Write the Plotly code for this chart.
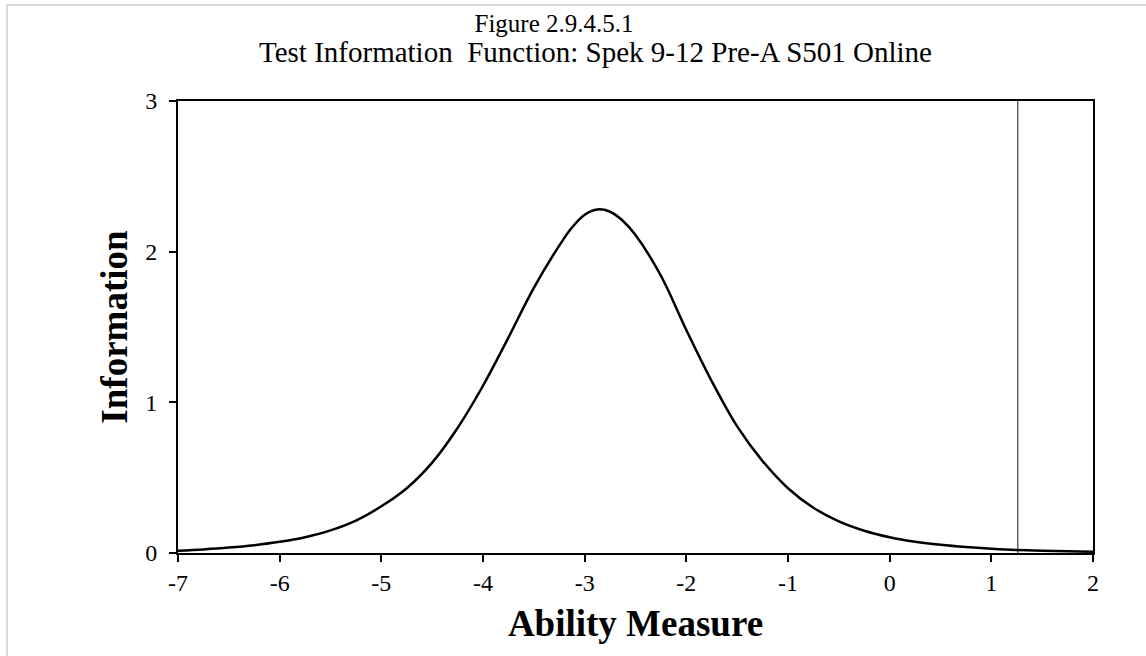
import plotly.graph_objects as go

# Data
ability = [-7.0, -6.75, -6.5, -6.25, -6.0, -5.75, -5.5, -5.25, -5.0, -4.75, -4.5, -4.25,
           -4.0, -3.75, -3.5, -3.25, -3.125, -3.0, -2.875, -2.75, -2.625, -2.5, -2.25, -2.0,
           -1.75, -1.5, -1.25, -1.0, -0.75, -0.5, -0.25, 0.0, 0.25, 0.5, 0.75, 1.0, 1.25,
           1.5, 1.75, 2.0]
information = [0.015, 0.024, 0.036, 0.052, 0.074, 0.105, 0.15, 0.215, 0.31, 0.43, 0.60, 0.83,
               1.11, 1.43, 1.76, 2.04, 2.16, 2.245, 2.28, 2.265, 2.205, 2.11, 1.84, 1.48,
               1.14, 0.84, 0.61, 0.43, 0.30, 0.21, 0.148, 0.105, 0.075, 0.054, 0.039, 0.028, 0.020,
               0.015, 0.011, 0.008]
cut_x = [1.26, 1.26]
cut_y = [0, 3]

x_ticks = [-7, -6, -5, -4, -3, -2, -1, 0, 1, 2]
x_labels = ["-7", "-6", "-5", "-4", "-3", "-2", "-1", "0", "1", "2"]
y_ticks = [0, 1, 2, 3]
y_labels = ["0", "1", "2", "3"]

title_line1 = "Figure 2.9.4.5.1"
title_line2 = "Test Information  Function: Spek 9-12 Pre-A S501 Online"
x_title = "Ability Measure"
y_title = "Information"

FONT = "Liberation Serif, Times New Roman, serif"

fig = go.Figure()
fig.add_trace(go.Scatter(x=cut_x, y=cut_y, mode="lines",
                         line=dict(color="#404040", width=1.2), showlegend=False, hoverinfo="skip"))
fig.add_trace(go.Scatter(x=ability, y=information, mode="lines",
                         line=dict(color="black", width=2.5, shape="spline", smoothing=1.0),
                         showlegend=False))

L, R, T, B = 178, 53, 101, 103
W, H = 1146, 656
pw, ph = W - L - R, H - T - B

fig.update_layout(
    width=W, height=H,
    margin=dict(l=L, r=R, t=T, b=B, pad=0),
    paper_bgcolor="white", plot_bgcolor="white",
    font=dict(family=FONT, color="black", size=24),
    title=dict(text=title_line1, x=554 / W, xanchor="center",
               yref="container", y=1 - 23 / H, yanchor="middle",
               font=dict(family=FONT, size=25, color="black")),
    xaxis=dict(range=[-7, 2], tickvals=x_ticks, ticktext=x_labels, ticks="outside", ticklen=7,
               tickwidth=2, tickcolor="black", showline=True, linewidth=2, linecolor="black",
               mirror=True, showgrid=False, zeroline=False,
               tickfont=dict(family=FONT, size=24, color="black"),
               title=dict(text="<b>" + x_title + "</b>", font=dict(family=FONT, size=37, color="black"),
                          standoff=15)),
    yaxis=dict(range=[0, 3], tickvals=y_ticks, ticktext=y_labels, ticks="outside", ticklen=7,
               tickwidth=2, tickcolor="black", showline=True, linewidth=2, linecolor="black",
               mirror=True, showgrid=False, zeroline=False, ticklabelstandoff=7,
               tickfont=dict(family=FONT, size=24, color="black"),
               title=dict(text="<b>" + y_title + "</b>", font=dict(family=FONT, size=37, color="black"),
                          standoff=6)),
)

fig.add_annotation(text=title_line2, xref="paper", yref="paper", x=(595 - L) / pw,
                   y=(H - B - 52) / ph, xanchor="center", yanchor="middle", showarrow=False,
                   font=dict(family=FONT, size=29, color="black"))

# light grey frame around the chart area
fig.add_shape(type="rect", xref="paper", yref="paper",
              x0=(7 - L) / pw, x1=(W + 10 - L) / pw,
              y0=-(B + 10) / ph, y1=(H - B - 5) / ph,
              line=dict(color="#d9d9d9", width=2), fillcolor="rgba(0,0,0,0)", layer="below")

fig.write_html("out.html", config={"displayModeBar": False},
               post_script="document.body.style.margin='0';")
